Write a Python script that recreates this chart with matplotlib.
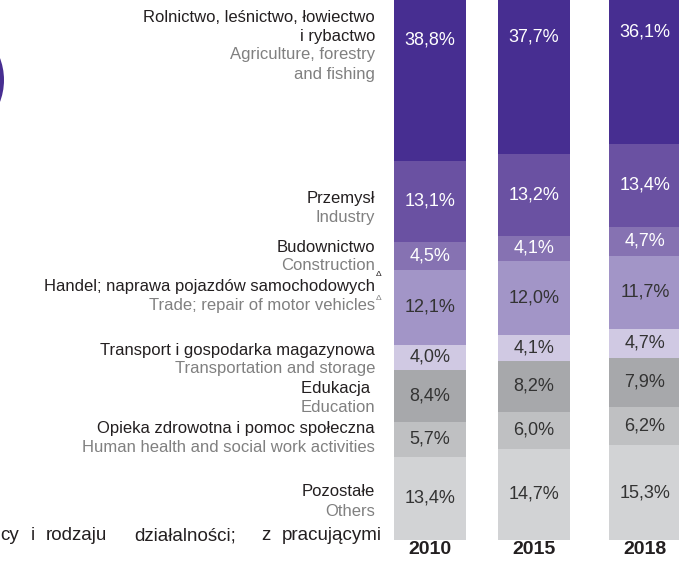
import numpy as np
import matplotlib.pyplot as plt
from matplotlib.patches import Circle

plt.rcParams['font.family'] = ['Liberation Sans', 'DejaVu Sans']

W, H = 679, 566

years = ['2010', '2015', '2018']
# shares in %, stack order from the bottom up
pozostale = [13.4, 14.7, 15.3]
zdrowie = [5.7, 6.0, 6.2]
edukacja = [8.4, 8.2, 7.9]
transport = [4.0, 4.1, 4.7]
handel = [12.1, 12.0, 11.7]
budownictwo = [4.5, 4.1, 4.7]
przemysl = [13.1, 13.2, 13.4]
rolnictwo = [38.8, 37.7, 36.1]

series = [pozostale, zdrowie, edukacja, transport, handel, budownictwo, przemysl, rolnictwo]
colors = ['#d2d3d5', '#bfc0c2', '#a7a8ab', '#d0c9e3', '#a295c7', '#8672b2', '#6a51a2', '#472e91']
txt_colors = ['#333333'] * 5 + ['white'] * 3

dark = '#231f20'
gray = '#808080'


def fx(x):
    return x / W


def fy(y):
    return 1 - y / H


fig = plt.figure(figsize=(W / 100, H / 100), dpi=100)
ax = fig.add_axes([fx(380), 26 / H, 299 / W, 540 / H])

xpos = np.array([0, 1, 2.067])
bottom = np.zeros(3)
for vals, c, tc in zip(series, colors, txt_colors):
    ax.bar(xpos, vals, 0.69, bottom=bottom, color=c, linewidth=0)
    # label in the middle of the whole segment (top of the stack is cut off)
    for x, b, v in zip(xpos, bottom, vals):
        ax.text(x, b + v / 2, f'{v:.1f}'.replace('.', ',') + '%', ha='center', va='center',
                color=tc, fontsize=13)
    bottom += np.array(vals)

ax.set_xlim(-50 / 104, 249 / 104)
ax.set_ylim(0, 540 / 6.2)
ax.set_xticks(xpos)
ax.set_xticklabels(years, fontsize=14, fontweight='bold', color=dark)
ax.tick_params(axis='x', length=0, pad=1)
ax.set_yticks([])
for s in ax.spines.values():
    s.set_visible(False)

# category names, Polish in dark, English in grey
rows = [
    ('Rolnictwo, leśnictwo, łowiectwo', 17, dark),
    ('i rybactwo', 36, dark),
    ('Agriculture, forestry', 55, gray),
    ('and fishing', 74, gray),
    ('Przemysł', 198, dark),
    ('Industry', 217, gray),
    ('Budownictwo', 247, dark),
    ('Construction', 266, gray),
    ('Handel; naprawa pojazdów samochodowych', 286, dark),
    ('Trade; repair of motor vehicles', 305, gray),
    ('Transport i gospodarka magazynowa', 350, dark),
    ('Transportation and storage', 369, gray),
    ('Edukacja ', 388, dark),
    ('Education', 407, gray),
    ('Opieka zdrowotna i pomoc społeczna', 428, dark),
    ('Human health and social work activities', 447, gray),
    ('Pozostałe', 492, dark),
    ('Others', 511, gray),
]
for t, y, c in rows:
    fig.text(fx(375), fy(y), t, ha='right', va='center', fontsize=12, color=c)

fig.text(fx(376), fy(275), 'Δ', ha='left', va='center', fontsize=6, color=dark)
fig.text(fx(376), fy(299), 'Δ', ha='left', va='center', fontsize=6, color=gray)

# justified footnote line, cut on the left by the crop
words = ['cy', 'i', 'rodzaju', 'działalności;', 'z', 'pracującymi']
word_cx = [10, 33, 76, 185, 266, 332]
for w, x in zip(words, word_cx):
    fig.text(fx(x), fy(536), w, ha='center', va='center', fontsize=13.5, color=dark)

# piece of the round icon cut by the left edge
fig.add_artist(Circle((-0.58, (H - 80) / 100), 0.62, transform=fig.dpi_scale_trans,
                      color='#472e91', linewidth=0))

fig.savefig('out.png', dpi=100)
